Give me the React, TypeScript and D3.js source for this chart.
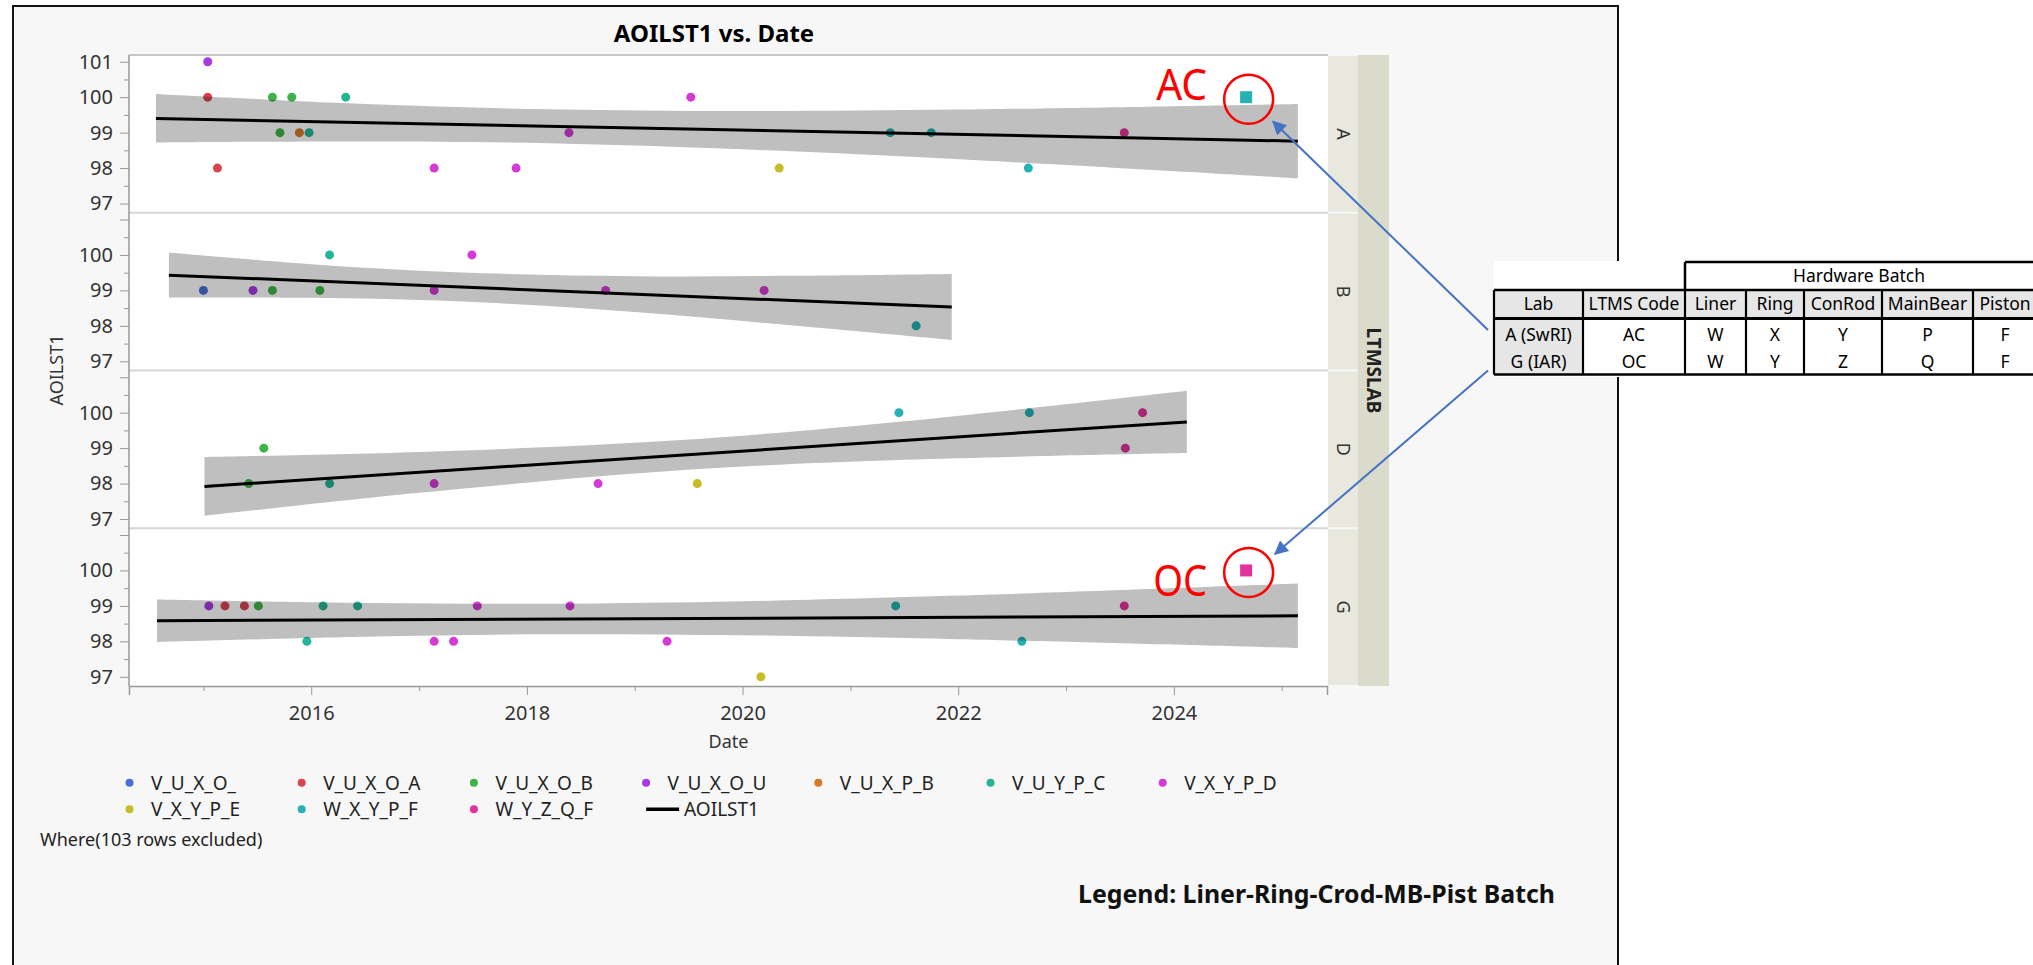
import { useEffect, useRef } from "react";
import * as d3 from "d3";

const W = 2033;
const H = 965;

const seriesNames = [
  "V_U_X_O_",
  "V_U_X_O_A",
  "V_U_X_O_B",
  "V_U_X_O_U",
  "V_U_X_P_B",
  "V_U_Y_P_C",
  "V_X_Y_P_D",
  "V_X_Y_P_E",
  "W_X_Y_P_F",
  "W_Y_Z_Q_F",
];
const seriesColors = [
  "#4a6fd6",
  "#d8434f",
  "#3fb34a",
  "#a53be0",
  "#d4782a",
  "#25b596",
  "#d53ad6",
  "#c6bc26",
  "#25b2b2",
  "#e0349a",
];

const labs = ["A", "B", "D", "G"];

// [date (decimal year), AOILST1, batch]
const pointsA: [number, number, string][] = [
  [2015.04, 101, "V_U_X_O_U"],
  [2015.04, 100, "V_U_X_O_A"],
  [2015.13, 98, "V_U_X_O_A"],
  [2015.64, 100, "V_U_X_O_B"],
  [2015.82, 100, "V_U_X_O_B"],
  [2015.71, 99, "V_U_X_O_B"],
  [2015.89, 99, "V_U_X_P_B"],
  [2015.98, 99, "V_U_Y_P_C"],
  [2016.32, 100, "V_U_Y_P_C"],
  [2017.14, 98, "V_X_Y_P_D"],
  [2017.9, 98, "V_X_Y_P_D"],
  [2018.39, 99, "V_X_Y_P_D"],
  [2019.52, 100, "V_X_Y_P_D"],
  [2020.34, 98, "V_X_Y_P_E"],
  [2021.37, 99, "W_X_Y_P_F"],
  [2021.75, 99, "W_X_Y_P_F"],
  [2022.65, 98, "W_X_Y_P_F"],
  [2023.54, 99, "W_Y_Z_Q_F"],
];
const pointsB: [number, number, string][] = [
  [2015.0, 99, "V_U_X_O_"],
  [2015.46, 99, "V_U_X_O_U"],
  [2015.64, 99, "V_U_X_O_B"],
  [2016.08, 99, "V_U_X_O_B"],
  [2016.17, 100, "V_U_Y_P_C"],
  [2017.14, 99, "V_X_Y_P_D"],
  [2017.49, 100, "V_X_Y_P_D"],
  [2018.73, 99, "V_X_Y_P_D"],
  [2020.2, 99, "V_X_Y_P_D"],
  [2021.61, 98, "W_X_Y_P_F"],
];
const pointsD: [number, number, string][] = [
  [2015.42, 98, "V_U_X_O_B"],
  [2015.56, 99, "V_U_X_O_B"],
  [2016.17, 98, "V_U_Y_P_C"],
  [2017.14, 98, "V_X_Y_P_D"],
  [2018.66, 98, "V_X_Y_P_D"],
  [2019.58, 98, "V_X_Y_P_E"],
  [2021.45, 100, "W_X_Y_P_F"],
  [2022.66, 100, "W_X_Y_P_F"],
  [2023.55, 99, "W_Y_Z_Q_F"],
  [2023.71, 100, "W_Y_Z_Q_F"],
];
const pointsG: [number, number, string][] = [
  [2015.05, 99, "V_U_X_O_U"],
  [2015.2, 99, "V_U_X_O_A"],
  [2015.38, 99, "V_U_X_O_A"],
  [2015.51, 99, "V_U_X_O_B"],
  [2015.96, 98, "V_U_Y_P_C"],
  [2016.11, 99, "V_U_Y_P_C"],
  [2016.43, 99, "V_U_Y_P_C"],
  [2017.14, 98, "V_X_Y_P_D"],
  [2017.32, 98, "V_X_Y_P_D"],
  [2017.54, 99, "V_X_Y_P_D"],
  [2018.4, 99, "V_X_Y_P_D"],
  [2019.3, 98, "V_X_Y_P_D"],
  [2020.17, 97, "V_X_Y_P_E"],
  [2021.42, 99, "W_X_Y_P_F"],
  [2022.59, 98, "W_X_Y_P_F"],
  [2023.54, 99, "W_Y_Z_Q_F"],
];
const pointsByLab = [pointsA, pointsB, pointsD, pointsG];

// AOILST1 fit line ends [date, value]
const fitA: [number, number][] = [[2014.56, 99.4], [2025.15, 98.76]];
const fitB: [number, number][] = [[2014.68, 99.43], [2021.94, 98.53]];
const fitD: [number, number][] = [[2015.01, 97.92], [2024.12, 99.74]];
const fitG: [number, number][] = [[2014.57, 98.58], [2025.15, 98.72]];
const fitByLab = [fitA, fitB, fitD, fitG];

// confidence band [date, low, high]
const bandA: [number, number, number][] = [
  [2014.56, 98.72, 100.09],
  [2016.5, 98.75, 99.81],
  [2018.2, 98.7, 99.66],
  [2020.0, 98.53, 99.61],
  [2022.0, 98.25, 99.65],
  [2025.15, 97.71, 99.81],
];
const bandB: [number, number, number][] = [
  [2014.68, 98.8, 100.07],
  [2016.0, 98.79, 99.74],
  [2017.35, 98.69, 99.51],
  [2019.0, 98.39, 99.4],
  [2020.5, 98.0, 99.41],
  [2021.94, 97.6, 99.46],
];
const bandD: [number, number, number][] = [
  [2015.01, 97.09, 98.75],
  [2017.0, 97.74, 98.89],
  [2019.39, 98.37, 99.22],
  [2021.5, 98.67, 99.76],
  [2024.12, 98.86, 100.62],
];
const bandG: [number, number, number][] = [
  [2014.57, 97.98, 99.18],
  [2016.5, 98.13, 99.08],
  [2018.2, 98.2, 99.06],
  [2020.0, 98.17, 99.13],
  [2022.0, 98.06, 99.29],
  [2025.15, 97.81, 99.63],
];
const bandByLab = [bandA, bandB, bandD, bandG];

// new tests marked with squares: [labIndex, date, value, batch, code]
const highlights: [number, number, number, string, string][] = [
  [0, 2024.67, 100, "W_X_Y_P_F", "AC"],
  [3, 2024.67, 100, "W_Y_Z_Q_F", "OC"],
];

const xDomain = [2014.31, 2025.42];
const yDomain = [96.74, 101.19];
const xMajor = [2016, 2018, 2020, 2022, 2024];
const xMinor = [2015, 2017, 2019, 2021, 2023, 2025];
const yMajor = [97, 98, 99, 100, 101];
const yMinor = [97.5, 98.5, 99.5, 100.5];

const tableHeader = ["Lab", "LTMS Code", "Liner", "Ring", "ConRod", "MainBear", "Piston"];
const tableRows = [
  ["A (SwRI)", "AC", "W", "X", "Y", "P", "F"],
  ["G (IAR)", "OC", "W", "Y", "Z", "Q", "F"],
];

const FONT = "'Noto Sans', 'DejaVu Sans', sans-serif";

const App = () => {
  const svgRef = useRef(null);

  useEffect(() => {
    document.body.style.margin = "0";
    const svg = d3.select(svgRef.current);
    svg.selectAll("*").remove();

    const left = 129;
    const right = 1328;
    const top = 55;
    const bottom = 686;
    const ph = (bottom - top) / labs.length;

    svg.append("rect").attr("width", W).attr("height", H).attr("fill", "#fff");

    // outer frame
    svg
      .append("rect")
      .attr("x", 13)
      .attr("y", 6)
      .attr("width", 1605)
      .attr("height", 1000)
      .attr("fill", "#f7f7f7")
      .attr("stroke", "#111")
      .attr("stroke-width", 2);

    svg
      .append("text")
      .attr("x", 714)
      .attr("y", 42)
      .attr("text-anchor", "middle")
      .style("font-family", FONT)
      .style("font-size", "24px")
      .style("font-weight", "bold")
      .text("AOILST1 vs. Date");

    const x = d3.scaleLinear().domain(xDomain).range([left, right - 1]);

    svg
      .append("rect")
      .attr("x", left)
      .attr("y", top)
      .attr("width", right - left)
      .attr("height", bottom - top)
      .attr("fill", "#fff");
    svg
      .append("line")
      .attr("x1", left)
      .attr("x2", right)
      .attr("y1", top)
      .attr("y2", top)
      .attr("stroke", "#c8c8c8")
      .attr("stroke-width", 2);

    const colorOf = (s) => seriesColors[seriesNames.indexOf(s)];

    labs.forEach((lab, i) => {
      const y = d3
        .scaleLinear()
        .domain(yDomain)
        .range([top + (i + 1) * ph, top + i * ph]);
      const g = svg.append("g");

      if (i > 0) {
        g.append("line")
          .attr("x1", left)
          .attr("x2", right)
          .attr("y1", top + i * ph)
          .attr("y2", top + i * ph)
          .attr("stroke", "#d6d6d6")
          .attr("stroke-width", 2);
      }

      g.selectAll(".dot")
        .data(pointsByLab[i])
        .enter()
        .append("circle")
        .attr("cx", (d) => x(d[0]))
        .attr("cy", (d) => y(d[1]))
        .attr("r", 4.5)
        .attr("fill", (d) => colorOf(d[2]));

      const area = d3
        .area()
        .x((d) => x(d[0]))
        .y0((d) => y(d[1]))
        .y1((d) => y(d[2]))
        .curve(d3.curveCatmullRom);
      g.append("path")
        .datum(bandByLab[i])
        .attr("fill", "rgba(0,0,0,0.25)")
        .attr("d", area);

      const line = d3
        .line()
        .x((d) => x(d[0]))
        .y((d) => y(d[1]));
      g.append("path")
        .datum(fitByLab[i])
        .attr("fill", "none")
        .attr("stroke", "#000")
        .attr("stroke-width", 3)
        .attr("d", line);

      // y axis
      const ax = g
        .append("g")
        .attr("transform", `translate(${left},0)`)
        .call(
          d3
            .axisLeft(y)
            .tickValues(yMajor)
            .tickSize(9)
            .tickSizeOuter(0)
            .tickPadding(7)
            .tickFormat((d) => (i === 0 || d <= 100 ? String(d) : ""))
        );
      ax.select(".domain").remove();
      ax.selectAll("line").attr("stroke", "#999");
      ax.selectAll("text")
        .style("font-family", FONT)
        .style("font-size", "20px")
        .style("fill", "#333");
      const mx = g
        .append("g")
        .attr("transform", `translate(${left},0)`)
        .call(d3.axisLeft(y).tickValues(yMinor).tickSize(5).tickFormat(() => ""));
      mx.select(".domain").remove();
      mx.selectAll("line").attr("stroke", "#999");

      // strip label
      g.append("rect")
        .attr("x", right)
        .attr("y", top + i * ph + 1)
        .attr("width", 30)
        .attr("height", ph - 2)
        .attr("fill", "#e8e8df");
      g.append("text")
        .attr("transform", `translate(${right + 15},${top + (i + 0.5) * ph}) rotate(90)`)
        .attr("text-anchor", "middle")
        .attr("dy", "0.35em")
        .style("font-family", FONT)
        .style("font-size", "18px")
        .style("fill", "#333")
        .text(lab);
    });

    svg
      .append("rect")
      .attr("x", right + 30)
      .attr("y", top)
      .attr("width", 31)
      .attr("height", bottom - top)
      .attr("fill", "#dbdbcb");
    svg
      .append("text")
      .attr("transform", `translate(${right + 45.5},${(top + bottom) / 2}) rotate(90)`)
      .attr("text-anchor", "middle")
      .attr("dy", "0.35em")
      .style("font-family", FONT)
      .style("font-size", "19px")
      .style("font-weight", "bold")
      .style("fill", "#222")
      .text("LTMSLAB");

    svg
      .append("line")
      .attr("x1", left)
      .attr("x2", left)
      .attr("y1", top)
      .attr("y2", bottom)
      .attr("stroke", "#999")
      .attr("stroke-width", 1.5);

    // x axis
    const xa = svg
      .append("g")
      .attr("transform", `translate(0,${bottom})`)
      .call(d3.axisBottom(x).tickValues(xMajor).tickSize(9).tickPadding(11).tickFormat(d3.format("d")));
    xa.select(".domain").attr("stroke", "#999").attr("stroke-width", 1.5);
    xa.selectAll("line").attr("stroke", "#999");
    xa.selectAll("text").style("font-family", FONT).style("font-size", "20px").style("fill", "#333");
    const xm = svg
      .append("g")
      .attr("transform", `translate(0,${bottom})`)
      .call(d3.axisBottom(x).tickValues(xMinor).tickSize(5).tickFormat(() => ""));
    xm.select(".domain").remove();
    xm.selectAll("line").attr("stroke", "#999");

    svg
      .append("text")
      .attr("x", (left + right) / 2)
      .attr("y", 748)
      .attr("text-anchor", "middle")
      .style("font-family", FONT)
      .style("font-size", "18px")
      .style("fill", "#333")
      .text("Date");

    svg
      .append("text")
      .attr("transform", "translate(57,370) rotate(-90)")
      .attr("text-anchor", "middle")
      .attr("dy", "0.35em")
      .style("font-family", FONT)
      .style("font-size", "18px")
      .style("fill", "#333")
      .text("AOILST1");

    // highlighted new tests
    highlights.forEach(([li, date, val, batch, code]) => {
      const y = d3
        .scaleLinear()
        .domain(yDomain)
        .range([top + (li + 1) * ph, top + li * ph]);
      const cx = x(date);
      const cy = y(val);
      svg
        .append("rect")
        .attr("x", cx - 6)
        .attr("y", cy - 6)
        .attr("width", 12)
        .attr("height", 12)
        .attr("fill", colorOf(batch));
      svg
        .append("ellipse")
        .attr("cx", cx + 2.5)
        .attr("cy", cy + 2)
        .attr("rx", 24.5)
        .attr("ry", 24.5)
        .attr("fill", "none")
        .attr("stroke", "#ff0000")
        .attr("stroke-width", 2.5);
      svg
        .append("text")
        .attr("x", cx - 39)
        .attr("y", li === 0 ? cy + 2.5 : cy + 25.5)
        .attr("text-anchor", "end")
        .attr("textLength", code === "AC" ? 51 : 54)
        .attr("lengthAdjust", "spacingAndGlyphs")
        .style("font-family", FONT)
        .style("font-size", "43px")
        .style("fill", "#ff0000")
        .text(code);
    });

    // legend, 7 entries per row
    const legendItems = [...seriesNames, "AOILST1"];
    const lg = svg.append("g");
    legendItems.forEach((name, k) => {
      const col = k % 7;
      const row = Math.floor(k / 7);
      const lx = 129.5 + col * 172.2;
      const ly = 782.7 + row * 26.6;
      if (name === "AOILST1") {
        lg.append("line")
          .attr("x1", lx)
          .attr("x2", lx + 33)
          .attr("y1", ly)
          .attr("y2", ly)
          .attr("stroke", "#000")
          .attr("stroke-width", 3.5);
        lg.append("text")
          .attr("x", lx + 38)
          .attr("y", ly + 6.8)
          .style("font-family", FONT)
          .style("font-size", "19px")
          .style("fill", "#222")
          .text(name);
      } else {
        lg.append("circle").attr("cx", lx).attr("cy", ly).attr("r", 4).attr("fill", seriesColors[k]);
        lg.append("text")
          .attr("x", lx + 21.5)
          .attr("y", ly + 6.8)
          .style("font-family", FONT)
          .style("font-size", "19px")
          .style("fill", "#222")
          .text(name);
      }
    });
    svg
      .append("text")
      .attr("x", 40)
      .attr("y", 845.5)
      .style("font-family", FONT)
      .style("font-size", "18px")
      .style("fill", "#222")
      .text("Where(103 rows excluded)");

    svg
      .append("text")
      .attr("x", 1078)
      .attr("y", 903)
      .attr("textLength", 477)
      .attr("lengthAdjust", "spacingAndGlyphs")
      .style("font-family", FONT)
      .style("font-size", "25px")
      .style("font-weight", "bold")
      .style("fill", "#111")
      .text("Legend: Liner-Ring-Crod-MB-Pist Batch");

    // lookup table
    const cols = [1494, 1583, 1685, 1746, 1804, 1882, 1973, 2037];
    const rowsY = [262, 290, 318.5, 374.5];
    const tb = svg.append("g");
    tb.append("rect")
      .attr("x", 1494)
      .attr("y", 261)
      .attr("width", W - 1494)
      .attr("height", 116)
      .attr("fill", "#fff");
    tb.append("rect")
      .attr("x", cols[0])
      .attr("y", rowsY[1])
      .attr("width", cols[7] - cols[0])
      .attr("height", rowsY[2] - rowsY[1])
      .attr("fill", "#e6e6e6");
    tb.append("rect")
      .attr("x", cols[0])
      .attr("y", rowsY[2])
      .attr("width", cols[1] - cols[0])
      .attr("height", rowsY[3] - rowsY[2])
      .attr("fill", "#e6e6e6");
    const ln = (x1, y1, x2, y2, w) =>
      tb.append("line")
        .attr("x1", x1)
        .attr("y1", y1)
        .attr("x2", x2)
        .attr("y2", y2)
        .attr("stroke", "#000")
        .attr("stroke-width", w);
    ln(cols[2], rowsY[0], cols[7], rowsY[0], 2.5);
    ln(cols[2], rowsY[0], cols[2], rowsY[1], 2.5);
    ln(cols[0], rowsY[1], cols[7], rowsY[1], 2.5);
    ln(cols[0], rowsY[2], cols[7], rowsY[2], 3);
    ln(cols[0], rowsY[3], cols[7], rowsY[3], 2.5);
    cols.forEach((c) => ln(c, rowsY[1], c, rowsY[3], 2.2));

    const cellText = (txt, cx, cy) =>
      tb.append("text")
        .attr("x", cx)
        .attr("y", cy + 6.3)
        .attr("text-anchor", "middle")
        .style("font-family", FONT)
        .style("font-size", "17.5px")
        .style("fill", "#000")
        .text(txt);
    cellText("Hardware Batch", 1859, 276);
    tableHeader.forEach((h, c) => cellText(h, (cols[c] + cols[c + 1]) / 2, 304));
    tableRows.forEach((r, ri) =>
      r.forEach((v, c) => cellText(v, (cols[c] + cols[c + 1]) / 2, 335 + ri * 26.7))
    );

    // arrows
    const defs = svg.append("defs");
    defs
      .append("marker")
      .attr("id", "arrowHead")
      .attr("viewBox", "0 0 10 10")
      .attr("refX", 9)
      .attr("refY", 5)
      .attr("markerWidth", 9)
      .attr("markerHeight", 7)
      .attr("markerUnits", "strokeWidth")
      .attr("orient", "auto")
      .append("path")
      .attr("d", "M0,0L10,5L0,10z")
      .attr("fill", "#4472c4");
    const arrows = [
      [1488, 330, 1273, 121.5],
      [1488, 370.5, 1275, 554],
    ];
    arrows.forEach(([x1, y1, x2, y2]) =>
      svg
        .append("line")
        .attr("x1", x1)
        .attr("y1", y1)
        .attr("x2", x2)
        .attr("y2", y2)
        .attr("stroke", "#4472c4")
        .attr("stroke-width", 2)
        .attr("marker-end", "url(#arrowHead)")
    );
  }, []);

  return (
    <svg
      ref={svgRef}
      width={W}
      height={H}
      style={{ position: "absolute", left: 0, top: 0, display: "block" }}
    />
  );
};

export default App;
